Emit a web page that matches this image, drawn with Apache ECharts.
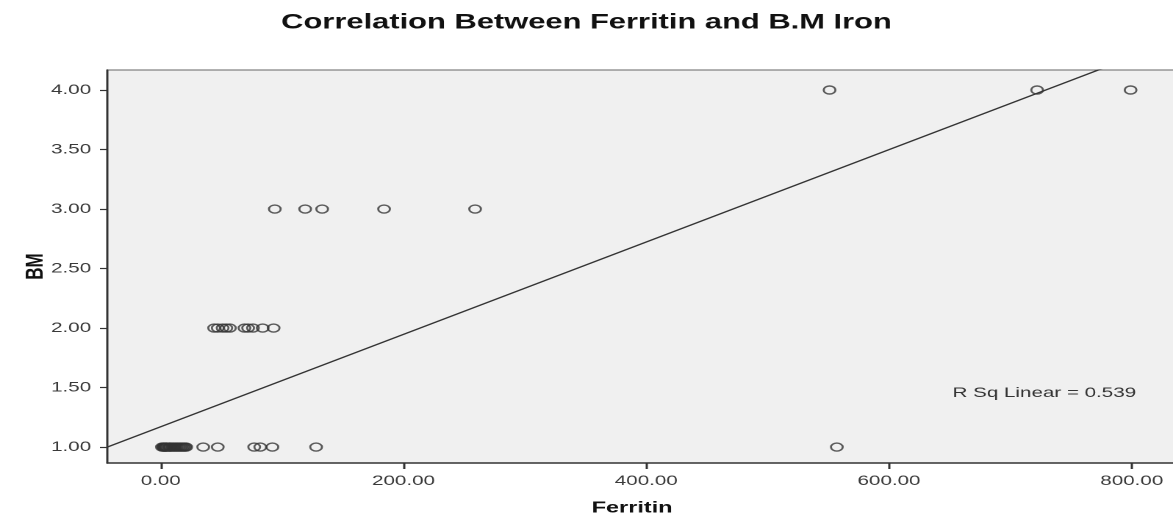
<!DOCTYPE html>
<html>
<head>
<meta charset="utf-8">
<script src="https://cdn.jsdelivr.net/npm/echarts@6/dist/echarts.min.js"></script>
<style>
  html, body { margin: 0; padding: 0; background: #ffffff; }
  #wrap { width: 1173px; height: 515px; overflow: hidden; position: relative; }
  #chart { width: 798px; height: 515px; transform: scaleX(1.46992); transform-origin: 0 0; }
</style>
</head>
<body>
<div id="wrap"><div id="chart"></div></div>
<script>
// ---- data ----
const chartTitle = 'Correlation Between Ferritin and B.M Iron';
const xAxisName = 'Ferritin';
const yAxisName = 'BM';
const xTickValues = [0, 200, 400, 600, 800];
const yTickValues = [1, 1.5, 2, 2.5, 3, 3.5, 4];
const xRange = [-44, 840];
const yRange = [0.866, 4.168];

const ferritinAtBM1 = [1, 2, 2.5, 3, 3.5, 4, 4.5, 5, 6, 7, 7.5, 8, 9, 10, 11, 12, 13, 14, 15, 16, 17, 18, 19, 20, 21,
                       35, 47, 77, 82, 92, 128, 557];
const ferritinAtBM2 = [44, 47, 51, 54, 57, 69, 72, 76, 84, 93];
const ferritinAtBM3 = [94, 119, 133, 184, 259];
const ferritinAtBM4 = [551, 722, 799];
const bmLevels = [1, 2, 3, 4];

const fitIntercept = 1.171;
const fitSlope = 0.00388;
const rSqText = 'R Sq Linear = 0.539';

// ---- build ----
const groups = [ferritinAtBM1, ferritinAtBM2, ferritinAtBM3, ferritinAtBM4];
const points = [];
groups.forEach((arr, i) => arr.forEach(v => points.push([v, bmLevels[i]])));
const fitLine = [
  [xRange[0], fitIntercept + fitSlope * xRange[0]],
  [xRange[1], fitIntercept + fitSlope * xRange[1]]
];

const FONT = 'Liberation Sans, Arial, sans-serif';
const chart = echarts.init(document.getElementById('chart'), null, { renderer: 'canvas', devicePixelRatio: 2 });
chart.setOption({
  animation: false,
  backgroundColor: '#ffffff',
  title: {
    text: chartTitle,
    left: 'center',
    top: 7,
    textStyle: { fontFamily: FONT, fontWeight: 'bold', fontSize: 21, color: '#111' }
  },
  grid: {
    left: 73, right: -5, top: 70, bottom: 52,
    outerBoundsMode: 'none',
    containLabel: false,
    show: true, backgroundColor: '#f0f0f0', borderColor: '#666', borderWidth: 1
  },
  xAxis: {
    type: 'value',
    min: xRange[0], max: xRange[1],
    name: xAxisName,
    nameLocation: 'middle',
    nameGap: 37,
    nameTextStyle: { fontFamily: FONT, fontWeight: 'bold', fontSize: 16, color: '#111', padding: [0, 16, 0, 0] },
    splitLine: { show: false },
    axisLine: { show: true, onZero: false, lineStyle: { color: '#333', width: 1.5 } },
    axisTick: { show: true, customValues: xTickValues, length: 6, lineStyle: { color: '#333', width: 1.5 } },
    axisLabel: {
      customValues: xTickValues, margin: 11,
      fontFamily: FONT, fontSize: 14, color: '#3a3a3a',
      formatter: v => Number(v).toFixed(2)
    }
  },
  yAxis: {
    type: 'value',
    min: yRange[0], max: yRange[1],
    name: yAxisName,
    nameLocation: 'middle',
    nameRotate: 90,
    nameGap: 40,
    nameMoveOverlap: false,
    nameTextStyle: { fontFamily: FONT, fontWeight: 'bold', fontSize: 17, color: '#111' },
    splitLine: { show: false },
    axisLine: { show: true, onZero: false, lineStyle: { color: '#333', width: 1.5 } },
    axisTick: { show: true, customValues: yTickValues, length: 5, lineStyle: { color: '#333', width: 1.2 } },
    axisLabel: {
      customValues: yTickValues, margin: 11,
      fontFamily: FONT, fontSize: 14, color: '#3a3a3a',
      formatter: v => Number(v).toFixed(2)
    }
  },
  graphic: [{
    type: 'text',
    left: 648, top: 386,
    style: { text: rSqText, font: '14px ' + FONT, fill: '#333' }
  }],
  series: [
    {
      type: 'line',
      data: fitLine,
      showSymbol: false,
      symbol: 'none',
      clip: true,
      lineStyle: { color: '#333', width: 1.3 },
      z: 2
    },
    {
      type: 'scatter',
      data: points,
      symbol: 'circle',
      symbolSize: 8,
      itemStyle: { color: 'rgba(0,0,0,0)', borderColor: '#333', borderWidth: 1.4 },
      z: 3
    }
  ]
});
</script>
</body>
</html>
